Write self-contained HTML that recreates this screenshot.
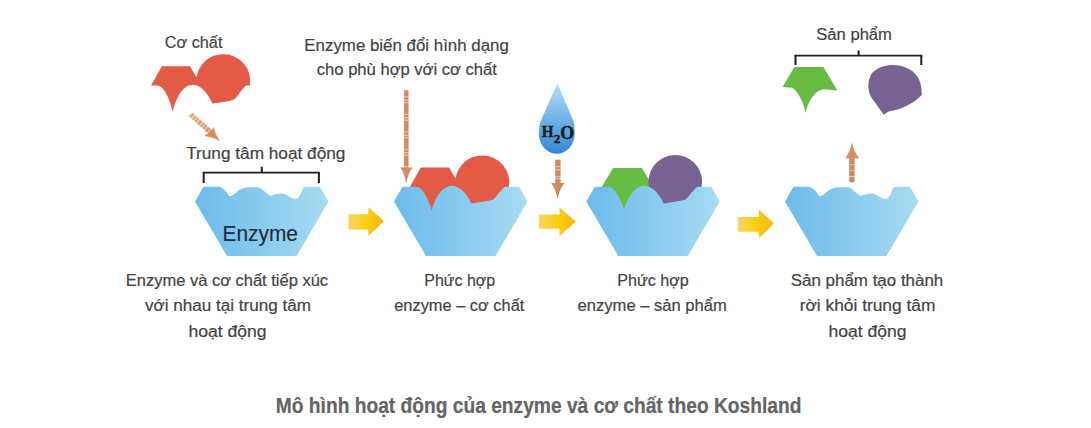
<!DOCTYPE html>
<html><head><meta charset="utf-8">
<style>
html,body{margin:0;padding:0;background:#fff;}
svg{display:block;}
text{font-family:"Liberation Sans",sans-serif;}
text.sf{font-family:"Liberation Serif",serif;}
.t{font-size:16px;fill:#444444;stroke:#444444;stroke-width:0.2px;}
.ti{font-size:21.5px;font-weight:bold;fill:#646464;stroke:#646464;stroke-width:0.2px;}
</style></head><body>
<svg width="1091" height="428" viewBox="0 0 1091 428">
<defs>
<linearGradient id="eg" x1="0" y1="0" x2="1" y2="0">
<stop offset="0" stop-color="#6bbbeb"/><stop offset="1" stop-color="#a8dbf1"/>
</linearGradient>
<linearGradient id="yg" x1="0" y1="0" x2="1" y2="0">
<stop offset="0" stop-color="#f8d46a"/><stop offset="0.5" stop-color="#fccf0a"/><stop offset="1" stop-color="#f2b41a"/>
</linearGradient>
<linearGradient id="dg" x1="0" y1="0" x2="0" y2="1">
<stop offset="0" stop-color="#bcdff6"/><stop offset="0.5" stop-color="#6fb3e8"/><stop offset="1" stop-color="#3489d2"/>
</linearGradient>
<linearGradient id="ag" gradientUnits="userSpaceOnUse" x1="190" y1="114" x2="212" y2="133"><stop offset="0" stop-color="#e3b18f"/><stop offset="1" stop-color="#d98d60"/></linearGradient>
</defs>

<!-- Texts -->
<text class="t" x="164.8" y="47.5" textLength="57.6" lengthAdjust="spacingAndGlyphs">Cơ chất</text>
<text class="t" x="304.3" y="50.8" textLength="204.6" lengthAdjust="spacingAndGlyphs">Enzyme biến đổi hình dạng</text>
<text class="t" x="316.8" y="75.2" textLength="180.1" lengthAdjust="spacingAndGlyphs">cho phù hợp với cơ chất</text>
<text class="t" x="186.2" y="158.6" textLength="159.2" lengthAdjust="spacingAndGlyphs">Trung tâm hoạt động</text>
<text class="t" x="816.3" y="40.2" textLength="75.6" lengthAdjust="spacingAndGlyphs">Sản phẩm</text>

<text class="t" x="125.8" y="286.4" textLength="202.3" lengthAdjust="spacingAndGlyphs">Enzyme và cơ chất tiếp xúc</text>
<text class="t" x="145.0" y="311.1" textLength="166.0" lengthAdjust="spacingAndGlyphs">với nhau tại trung tâm</text>
<text class="t" x="188.4" y="336.6" textLength="78.2" lengthAdjust="spacingAndGlyphs">hoạt động</text>

<text class="t" x="424.3" y="285.8" textLength="70.8" lengthAdjust="spacingAndGlyphs">Phức hợp</text>
<text class="t" x="394.2" y="311.1" textLength="130.2" lengthAdjust="spacingAndGlyphs">enzyme – cơ chất</text>

<text class="t" x="617.2" y="285.8" textLength="71.5" lengthAdjust="spacingAndGlyphs">Phức hợp</text>
<text class="t" x="577.6" y="311.1" textLength="149.2" lengthAdjust="spacingAndGlyphs">enzyme – sản phẩm</text>

<text class="t" x="790.7" y="285.8" textLength="152.6" lengthAdjust="spacingAndGlyphs">Sản phẩm tạo thành</text>
<text class="t" x="799.7" y="311.1" textLength="135.7" lengthAdjust="spacingAndGlyphs">rời khỏi trung tâm</text>
<text class="t" x="828.5" y="336.6" textLength="78.1" lengthAdjust="spacingAndGlyphs">hoạt động</text>

<text class="ti" x="275.8" y="413" textLength="525.6" lengthAdjust="spacingAndGlyphs">Mô hình hoạt động của enzyme và cơ chất theo Koshland</text>

<!-- Brackets -->
<g fill="none" stroke="#231f20">
<path d="M202.8,172.6 L319.8,172.6" stroke-width="1.7"/>
<path d="M203.7,183 L203.7,172 M318.9,183 L318.9,172 M261.8,166.8 L261.8,173" stroke-width="2"/>
<path d="M794.6,55.7 L922.2,55.7" stroke-width="1.7"/>
<path d="M795.5,65 L795.5,55 M921.3,65 L921.3,55 M858.6,50.4 L858.6,56" stroke-width="2"/>
</g>

<!-- Substrate 1 (free) -->
<path fill="#e35a47" transform="translate(135,-101.2)" d="M16,186.8 L26.8,167.4 L55,167.4 L61.6,178.5 A26.8,26.8 0 0 1 88.3,155.4 A26.8,26.8 0 0 1 114.8,187 L111,186.8 C107,190 102.5,198 100,200 C97,202.5 88,203 77.5,205 C73,195 66,186 58,186 C47,186 40.5,201 37.8,213 C35,201 29,187 22.5,186.8 Z"/>

<!-- Substrate 2 (docked red) -->
<path fill="#e35a47" transform="translate(394,0)" d="M16,186.8 L26.8,167.4 L55,167.4 L61.6,178.5 A26.8,26.8 0 0 1 88.3,155.4 A26.8,26.8 0 0 1 114.8,187 L114.8,205 L38,212 L16,205 Z"/>
<!-- Substrate 3 green + purple -->
<path fill="#68bc44" transform="translate(586.3,0)" d="M15.5,186.8 L26.8,167.9 L55.5,167.9 L66,185 L66,205 L38,212 L15.5,205 Z"/>
<circle fill="#796394" cx="675.3" cy="181.8" r="26.8"/>

<!-- Enzymes -->
<path d="M0,201.5 L8.5,186.8 L23.8,186.8 C27,187.5 30,190 32,193 C33.5,195.5 34.5,196.3 35.4,196.3 C38,196 41,192 45,189.5 C48,187.8 52,187.2 55.7,187.2 L62.3,187.2 C66,187.5 69,191 72,193.5 C74,195 75.5,195.7 76.6,195.7 C79,195 82,193.6 85.9,193.6 C89,193.6 92,195 95,197 C97,198.5 99,199 100.2,199 C102,199 104,197 105.5,194.5 C107,191 108,187 110.5,186.8 L125,186.8 L133.5,201.5 L101.5,256 L32,256 Z" transform="translate(195,0)" fill="url(#eg)"/>
<path d="M0,201.5 L8.5,186.8 L22.5,186.8 C29,187 35,201 37.8,210.3 C40.5,200 47,185.7 58,185.7 C66,185.7 73,194 77.5,203.6 C88,201.5 97,201 100,199 C102,197 107,190 111,186.8 L125,186.8 L133.5,201.5 L101.5,256 L32,256 Z" transform="translate(394,0)" fill="url(#eg)"/>
<path d="M0,201.5 L8.5,186.8 L22.5,186.8 C29,187 35,201 37.8,210.3 C40.5,200 47,185.7 58,185.7 C66,185.7 73,194 77.5,203.6 C88,201.5 97,201 100,199 C102,197 107,190 111,186.8 L125,186.8 L133.5,201.5 L101.5,256 L32,256 Z" transform="translate(586.3,0)" fill="url(#eg)"/>
<path d="M0,201.5 L8.5,186.8 L23.8,186.8 C27,187.5 30,190 32,193 C33.5,195.5 34.5,196.3 35.4,196.3 C38,196 41,192 45,189.5 C48,187.8 52,187.2 55.7,187.2 L62.3,187.2 C66,187.5 69,191 72,193.5 C74,195 75.5,195.7 76.6,195.7 C79,195 82,193.6 85.9,193.6 C89,193.6 92,195 95,197 C97,198.5 99,199 100.2,199 C102,199 104,197 105.5,194.5 C107,191 108,187 110.5,186.8 L125,186.8 L133.5,201.5 L101.5,256 L32,256 Z" transform="translate(785,0)" fill="url(#eg)"/>
<text x="222.5" y="240.8" textLength="75.5" lengthAdjust="spacingAndGlyphs" style="font-size:21.5px;fill:#1f2d3f;stroke:#1f2d3f;stroke-width:0.15px;">Enzyme</text>

<!-- Products -->
<path fill="#68bc44" d="M782.7,87.1 L794.3,67 L823.4,67 L837.4,90.5 L824.1,89.2 C815,90 808,101 805.8,112.9 C803,100 796,89.5 792.2,87.8 Z"/>
<path fill="#796394" d="M883.7,114.7 L871.4,97.5 C867,90 867.5,80 872,73 C878,67 886,65 893,65 C903,65 912,69 917,76 C921,82 921.8,88 921.8,95 C916,101 905,109 888.6,111.4 Z"/>

<!-- Yellow arrows -->
<path fill="url(#yg)" d="M348.4,214.3 L368.3,214.3 L368.3,207.3 L384,221.3 L368.3,235.9 L368.3,229.4 L348.4,229.4 Z"/>
<path fill="url(#yg)" d="M538.8,214.5 L559.5,214.5 L559.5,207.6 L575.9,221.5 L559.5,236 L559.5,228.7 L538.8,228.7 Z"/>
<path fill="url(#yg)" d="M737.8,216.9 L758.9,216.9 L758.9,209.6 L774,223.6 L758.9,238.2 L758.9,231.8 L737.8,231.8 Z"/>

<!-- Brown arrows -->
<g fill="#d48a5e">
<line x1="190.6" y1="114.5" x2="211" y2="132.5" stroke="#efd2be" stroke-width="5"/>
<line x1="190.6" y1="114.5" x2="211" y2="132.5" stroke="url(#ag)" stroke-width="5" stroke-dasharray="3 1.2 2 1.2 2 1.2"/>
<path d="M220.1,141.2 Q215,134 214,127.2 Q210,133 204.2,136.1 Q213,137 220.1,141.2 Z" fill="#d98b5d"/>
<line x1="406.3" y1="90.3" x2="406.3" y2="168.5" stroke="#ebcbb3" stroke-width="4.3"/>
<line x1="406.3" y1="90.3" x2="406.3" y2="168.5" stroke="#cf8c62" stroke-width="4.3" stroke-dasharray="10.6 0.9 2.6 0.9 1.6 0.9" stroke-dashoffset="4.6"/>
<path d="M400.1,167.4 L412.7,167.4 Q408,173 406.3,183.6 Q404.6,173 400.1,167.4 Z" fill="#d38e63"/>
<line x1="557.9" y1="159.7" x2="557.9" y2="184" stroke="#ecc9b3" stroke-width="5.2"/>
<line x1="557.9" y1="159.7" x2="557.9" y2="184" stroke="#cf8a66" stroke-width="5.2" stroke-dasharray="6.5 1 2 1 6 1 1 1 20"/>
<path d="M551.2,183 L564.6,183 Q559.5,189 557.6,199.3 Q555.7,189 551.2,183 Z" fill="#d08a60"/>
<line x1="851.9" y1="182.2" x2="851.9" y2="157.5" stroke="#ebc9b5" stroke-width="5.2"/>
<line x1="851.9" y1="182.2" x2="851.9" y2="157.5" stroke="#cf8866" stroke-width="5.2" stroke-dasharray="5.3 0.8 5 0.8 5.3 0.8 10"/>
<path d="M845.3,158.2 L859.3,158.2 Q854,152 852,142.5 Q850,152 845.3,158.2 Z" fill="#d48c64"/>
</g>

<!-- Water drop -->
<path fill="url(#dg)" d="M557.3,83.3 L541.2,120 C539.6,123.5 538.9,128 538.9,134 A17.9,19.8 0 0 0 574.7,134 C574.7,128 574.4,123.5 573,120 Z"/>
<g style="font-weight:bold;fill:#1f1a17;stroke:#1f1a17;stroke-width:0.4px;">
<text class="sf" x="541.8" y="137.3" style="font-size:16.5px;" textLength="11.8" lengthAdjust="spacingAndGlyphs">H</text>
<text class="sf" x="553.8" y="143" style="font-size:12.5px;" textLength="6.6" lengthAdjust="spacingAndGlyphs">2</text>
<text class="sf" x="560.3" y="138.6" style="font-size:18px;" textLength="14" lengthAdjust="spacingAndGlyphs">O</text>
</g>
</svg>
</body></html>
